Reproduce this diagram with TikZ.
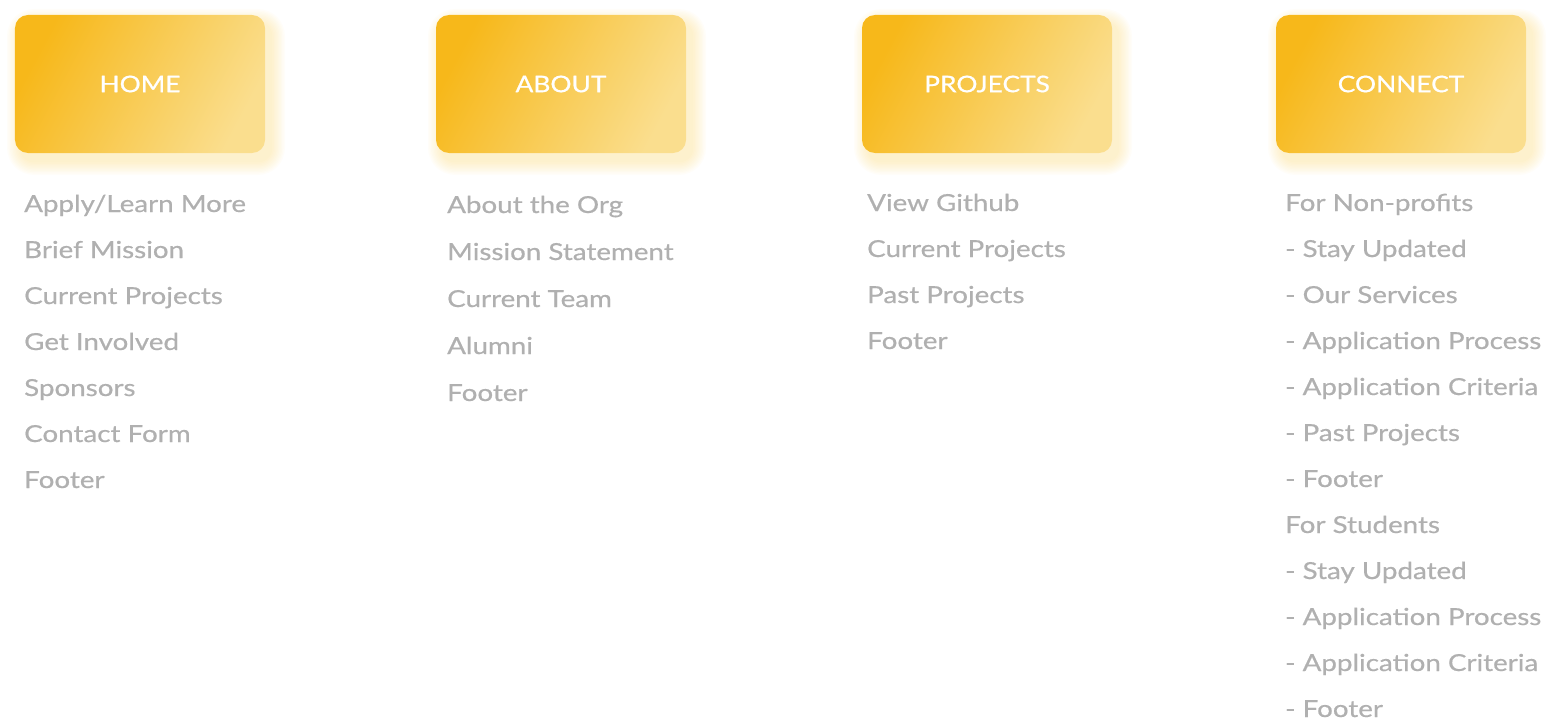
\documentclass[tikz,border=0pt]{standalone}
\usepackage{fontspec}
\setmainfont{Lato}[FakeStretch=1.15, FakeBold=0.7]
\newfontfamily\itemfont{Lato}[FakeStretch=1.185, FakeBold=0.6]
\definecolor{goldA}{RGB}{247,184,26}
\definecolor{goldB}{RGB}{250,222,142}
\definecolor{glowc}{RGB}{250,208,90}
\definecolor{itemgray}{RGB}{176,176,176}
\begin{document}
\begin{tikzpicture}[x=1bp,y=-1bp,
  pagebox/.style={minimum width=250bp, minimum height=138bp, rounded corners=13bp,
    inner sep=0pt, top color=goldA, bottom color=goldB, shading angle=62,
    text=white, font=\fontsize{23}{23}\selectfont},
  glowring/.style={fill=glowc, fill opacity=0.035, draw=none},
  item/.style={anchor=base west, inner sep=0pt, text=itemgray,
    font=\itemfont\fontsize{23.5}{24}\selectfont}]
\useasboundingbox (0,0) rectangle (1557,725);

% soft glow behind each heading box, pushed toward the lower right
\foreach \cx/\cy in {140/84, 561/84, 987/84, 1401/84}{
  \foreach \g in {1,...,10}{
    \fill[glowring, rounded corners={13bp+\g*1.4bp}]
      (\cx-125+6-\g*1.4, \cy-69+8-\g*1.4) rectangle (\cx+125+6+\g*1.4, \cy+69+8+\g*1.4);
  }
}

% heading boxes
\node[pagebox] (home)     at (140,84)  {HOME};
\node[pagebox] (about)    at (561,84)  {\raisebox{-1bp}{ABOUT}};
\node[pagebox] (projects) at (987,84)  {PROJECTS};
\node[pagebox] (connect)  at (1401,84) {CONNECT};

% HOME column
\foreach \t [count=\i from 0] in {Apply/Learn More, Brief Mission, Current Projects,
    Get Involved, Sponsors, Contact Form, Footer}{
  \node[item] (h\i) at (24,212+46*\i) {\t};
}
% ABOUT column
\foreach \t [count=\i from 0] in {About the Org, Mission Statement, Current Team,
    Alumni, Footer}{
  \node[item] (a\i) at (447,213+47*\i) {\t};
}
% PROJECTS column
\foreach \t [count=\i from 0] in {View Github, Current Projects, Past Projects, Footer}{
  \node[item] (p\i) at (867,211+46*\i) {\t};
}
% CONNECT column
\foreach \t [count=\i from 0] in {For Non-profits, - Stay Updated, - Our Services,
    - Application Process, - Application Criteria, - Past Projects, - Footer,
    For Students, - Stay Updated, - Application Process, - Application Criteria,
    - Footer}{
  \node[item] (c\i) at (1285,211+46*\i) {\t};
}
\end{tikzpicture}
\end{document}
